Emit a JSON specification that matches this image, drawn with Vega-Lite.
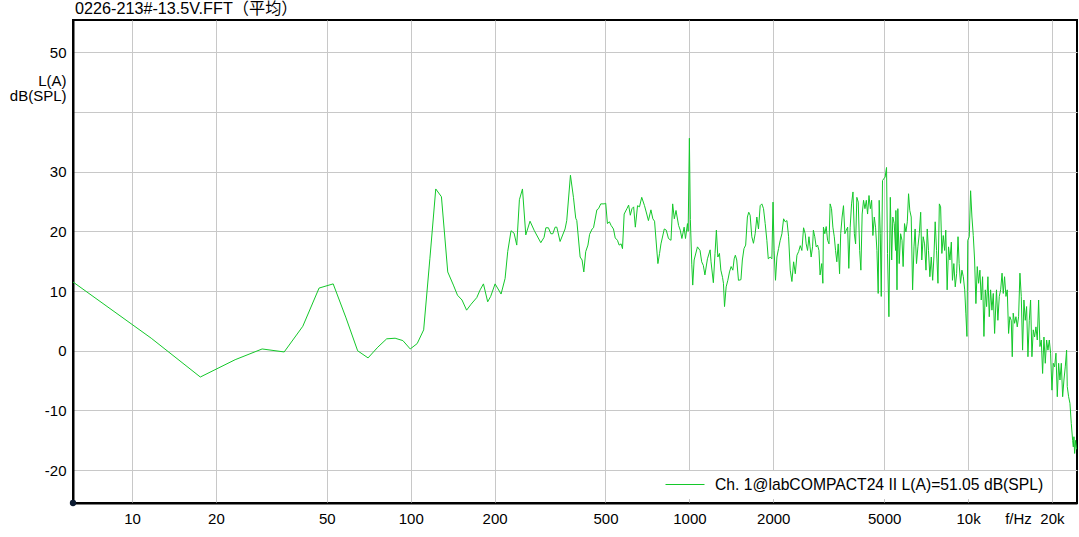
{
"$schema": "https://vega.github.io/schema/vega-lite/v6.json",
"width": 1004,
"height": 483,
"autosize": {"type": "none"},
"padding": {"left": 73, "top": 20, "right": 2, "bottom": 34},
"background": "white",
"title": {"text": "0226-213#-13.5V.FFT（平均）", "anchor": "start", "frame": "group", "dx": 2, "dy": 16, "offset": 6, "baseline": "alphabetic", "font": "Liberation Sans, Noto Sans CJK SC", "fontSize": 16.2, "fontWeight": "normal", "color": "black"},
"config": {
 "view": {"stroke": "black", "strokeWidth": 2},
 "axis": {"gridColor": "#c8c8c8", "gridWidth": 1, "domainColor": "black", "domainWidth": 2, "ticks": false, "labelFont": "Liberation Sans", "labelFontSize": 15, "labelColor": "black", "titleFont": "Liberation Sans", "titleFontSize": 15, "titleFontWeight": "normal", "titleColor": "black"}
},
"datasets": {
 "spectrum": [
{"f":5.86,"db":12.2},{"f":11.72,"db":2.1},{"f":17.58,"db":-4.4},{"f":23.44,"db":-1.5},{"f":29.3,"db":0.3},{"f":35.16,"db":-0.2},{"f":41.0,"db":4.1},{"f":46.9,"db":10.5},{"f":52.7,"db":11.2},{"f":58.6,"db":5.5},{"f":64.5,"db":0.0},{"f":70.3,"db":-1.2},{"f":76.2,"db":0.6},{"f":82.0,"db":2.0},{"f":87.9,"db":2.1},{"f":93.75,"db":1.7},{"f":99.6,"db":0.3},{"f":105.5,"db":1.2},{"f":111.3,"db":3.5},{"f":117.2,"db":15.5},{"f":123.0,"db":27.1},{"f":128.9,"db":25.8},{"f":135.8,"db":13.2},{"f":142.3,"db":11.0},{"f":147.2,"db":9.3},{"f":152.8,"db":8.5},{"f":158.7,"db":6.8},{"f":164.7,"db":7.8},{"f":172.6,"db":8.9},{"f":177.5,"db":10.2},{"f":182.4,"db":11.2},{"f":188.9,"db":8.2},{"f":193.6,"db":9.1},{"f":200.8,"db":11.2},{"f":211,"db":9.5},{"f":218.1,"db":12.1},{"f":222.9,"db":16.6},{"f":229.1,"db":20.1},{"f":234.9,"db":19.7},{"f":240.2,"db":17.7},{"f":245.5,"db":25.3},{"f":251.8,"db":27.1},{"f":258.8,"db":19.4},{"f":268,"db":21.7},{"f":277.8,"db":20.1},{"f":293,"db":18.1},{"f":301,"db":19.0},{"f":305.5,"db":20.6},{"f":312,"db":20.6},{"f":318.4,"db":19.6},{"f":323.6,"db":19.6},{"f":329.8,"db":20.7},{"f":334.4,"db":20.7},{"f":343.6,"db":18.3},{"f":358,"db":20.4},{"f":363,"db":21.8},{"f":374.3,"db":29.4},{"f":383.7,"db":25.7},{"f":391,"db":22.2},{"f":394.5,"db":21.8},{"f":405.5,"db":15.7},{"f":412,"db":15.2},{"f":418,"db":13.2},{"f":424.6,"db":16.6},{"f":432.5,"db":17.7},{"f":438.5,"db":19.5},{"f":447.7,"db":20.4},{"f":452.9,"db":20.6},{"f":465.6,"db":23.6},{"f":472,"db":23.8},{"f":480.8,"db":24.6},{"f":494.3,"db":24.6},{"f":501,"db":24.7},{"f":508,"db":21.3},{"f":516.4,"db":21.6},{"f":523.6,"db":21.0},{"f":534,"db":20.4},{"f":541.9,"db":18.9},{"f":552,"db":18.5},{"f":559.8,"db":17.7},{"f":568.9,"db":17.9},{"f":575.4,"db":17.1},{"f":583.4,"db":22.9},{"f":596.8,"db":23.8},{"f":605.3,"db":24.4},{"f":613.8,"db":22.7},{"f":622.3,"db":23.8},{"f":631,"db":24.1},{"f":639.8,"db":20.7},{"f":651.6,"db":24.3},{"f":662.2,"db":24.1},{"f":674.5,"db":25.7},{"f":690.2,"db":24.3},{"f":703.1,"db":22.9},{"f":712.9,"db":21.8},{"f":727.8,"db":23.6},{"f":739.6,"db":22.1},{"f":749.9,"db":21.7},{"f":770.9,"db":14.6},{"f":781.6,"db":16.3},{"f":790.7,"db":17.9},{"f":812.8,"db":20.4},{"f":826,"db":20.2},{"f":841.4,"db":18.8},{"f":859,"db":18.5},{"f":871,"db":24.6},{"f":883,"db":22.1},{"f":895.4,"db":23.5},{"f":914.6,"db":21.0},{"f":927.3,"db":20.2},{"f":940,"db":18.8},{"f":957.6,"db":20.7},{"f":968.4,"db":18.8},{"f":984.3,"db":21.3},{"f":990,"db":20.0},{"f":1000,"db":35.6},{"f":1008,"db":22.0},{"f":1020,"db":14.5},{"f":1028,"db":11.0},{"f":1040,"db":15.2},{"f":1069,"db":17.4},{"f":1092,"db":16.8},{"f":1107,"db":14.9},{"f":1122,"db":14.3},{"f":1137,"db":12.7},{"f":1161,"db":15.4},{"f":1187,"db":16.9},{"f":1196,"db":14.9},{"f":1219,"db":11.4},{"f":1236,"db":16.3},{"f":1250,"db":20.2},{"f":1265,"db":15.7},{"f":1282,"db":16.3},{"f":1297,"db":13.5},{"f":1315,"db":12.3},{"f":1325,"db":11.3},{"f":1337,"db":7.4},{"f":1355,"db":10.7},{"f":1374,"db":11.8},{"f":1393,"db":13.2},{"f":1412,"db":14.1},{"f":1432,"db":13.5},{"f":1448,"db":15.4},{"f":1462,"db":16.0},{"f":1479,"db":15.2},{"f":1500,"db":11.8},{"f":1531,"db":11.9},{"f":1549,"db":15.2},{"f":1570,"db":17.1},{"f":1592,"db":17.7},{"f":1615,"db":22.4},{"f":1633,"db":23.2},{"f":1652,"db":22.7},{"f":1675,"db":19.1},{"f":1698,"db":18.0},{"f":1722,"db":19.6},{"f":1746,"db":22.4},{"f":1770,"db":20.4},{"f":1795,"db":24.3},{"f":1820,"db":24.6},{"f":1845,"db":23.8},{"f":1871,"db":21.3},{"f":1897,"db":18.5},{"f":1919,"db":15.4},{"f":1950,"db":15.7},{"f":1977,"db":15.4},{"f":1996,"db":24.9},{"f":2014,"db":16.8},{"f":2037,"db":11.8},{"f":2061,"db":15.7},{"f":2089,"db":17.1},{"f":2118,"db":18.5},{"f":2148,"db":19.6},{"f":2178,"db":22.1},{"f":2208,"db":21.6},{"f":2239,"db":21.8},{"f":2270,"db":19.1},{"f":2301,"db":13.5},{"f":2333,"db":11.6},{"f":2366,"db":14.9},{"f":2399,"db":12.9},{"f":2432,"db":16.0},{"f":2466,"db":16.6},{"f":2500,"db":17.6},{"f":2533,"db":16.8},{"f":2569,"db":20.6},{"f":2604,"db":19.6},{"f":2625,"db":17.9},{"f":2655,"db":16.8},{"f":2686,"db":19.1},{"f":2710,"db":17.4},{"f":2735,"db":15.7},{"f":2767,"db":17.4},{"f":2786,"db":20.2},{"f":2818,"db":19.1},{"f":2851,"db":17.4},{"f":2884,"db":17.7},{"f":2917,"db":16.8},{"f":2944,"db":12.7},{"f":2985,"db":14.6},{"f":3013,"db":11.3},{"f":3027,"db":20.7},{"f":3062,"db":19.6},{"f":3097,"db":20.8},{"f":3133,"db":18.5},{"f":3170,"db":17.9},{"f":3199,"db":24.6},{"f":3236,"db":23.8},{"f":3273,"db":20.7},{"f":3311,"db":19.1},{"f":3346,"db":16.8},{"f":3381,"db":14.9},{"f":3420,"db":17.9},{"f":3459,"db":12.9},{"f":3491,"db":19.6},{"f":3532,"db":22.4},{"f":3573,"db":24.3},{"f":3614,"db":19.6},{"f":3656,"db":20.2},{"f":3698,"db":20.7},{"f":3733,"db":13.8},{"f":3776,"db":20.7},{"f":3819,"db":24.6},{"f":3864,"db":26.6},{"f":3908,"db":19.6},{"f":3949,"db":17.9},{"f":3990,"db":25.7},{"f":4036,"db":24.9},{"f":4083,"db":16.8},{"f":4125,"db":13.5},{"f":4169,"db":22.9},{"f":4217,"db":25.2},{"f":4266,"db":23.8},{"f":4315,"db":25.2},{"f":4360,"db":22.9},{"f":4411,"db":26.0},{"f":4461,"db":23.8},{"f":4508,"db":25.2},{"f":4555,"db":19.3},{"f":4608,"db":22.4},{"f":4656,"db":20.7},{"f":4710,"db":16.8},{"f":4759,"db":9.6},{"f":4798,"db":25.2},{"f":4842,"db":19.6},{"f":4881,"db":9.1},{"f":4932,"db":28.5},{"f":4983,"db":28.8},{"f":5041,"db":29.1},{"f":5099,"db":30.7},{"f":5140,"db":16.3},{"f":5200,"db":5.7},{"f":5260,"db":25.7},{"f":5321,"db":15.2},{"f":5370,"db":22.4},{"f":5433,"db":21.3},{"f":5495,"db":16.8},{"f":5508,"db":23.5},{"f":5559,"db":10.2},{"f":5598,"db":23.8},{"f":5662,"db":14.6},{"f":5728,"db":19.6},{"f":5794,"db":18.5},{"f":5848,"db":14.1},{"f":5916,"db":21.3},{"f":5984,"db":19.9},{"f":6053,"db":21.6},{"f":6116,"db":26.3},{"f":6180,"db":23.5},{"f":6252,"db":22.4},{"f":6324,"db":10.2},{"f":6397,"db":17.4},{"f":6457,"db":20.4},{"f":6531,"db":14.6},{"f":6607,"db":17.4},{"f":6683,"db":19.6},{"f":6761,"db":23.2},{"f":6823,"db":15.2},{"f":6902,"db":19.1},{"f":6982,"db":17.9},{"f":7063,"db":13.5},{"f":7137,"db":20.4},{"f":7211,"db":16.8},{"f":7295,"db":12.4},{"f":7379,"db":15.7},{"f":7464,"db":11.8},{"f":7542,"db":15.7},{"f":7621,"db":21.6},{"f":7709,"db":16.8},{"f":7798,"db":11.3},{"f":7889,"db":24.6},{"f":7971,"db":24.1},{"f":8054,"db":16.3},{"f":8147,"db":19.3},{"f":8241,"db":16.8},{"f":8318,"db":20.2},{"f":8414,"db":10.2},{"f":8511,"db":17.4},{"f":8610,"db":15.2},{"f":8710,"db":18.2},{"f":8790,"db":11.8},{"f":8892,"db":14.6},{"f":8995,"db":10.7},{"f":9099,"db":12.9},{"f":9204,"db":19.1},{"f":9290,"db":14.6},{"f":9397,"db":11.3},{"f":9506,"db":13.5},{"f":9616,"db":12.4},{"f":9727,"db":10.2},{"f":9817,"db":6.3},{"f":9908,"db":2.4},{"f":9977,"db":18.5},{"f":10100,"db":19.1},{"f":10212,"db":26.8},{"f":10325,"db":22.4},{"f":10440,"db":19.3},{"f":10556,"db":15.2},{"f":10671,"db":7.9},{"f":10790,"db":14.1},{"f":10909,"db":11.3},{"f":11030,"db":13.5},{"f":11153,"db":8.5},{"f":11276,"db":12.4},{"f":11402,"db":2.4},{"f":11528,"db":10.2},{"f":11656,"db":7.4},{"f":11783,"db":12.4},{"f":11914,"db":5.7},{"f":12047,"db":10.2},{"f":12180,"db":6.8},{"f":12316,"db":9.6},{"f":12453,"db":2.9},{"f":12647,"db":10.2},{"f":12794,"db":5.1},{"f":12942,"db":9.1},{"f":13092,"db":10.2},{"f":13243,"db":13.0},{"f":13375,"db":9.6},{"f":13521,"db":12.4},{"f":13677,"db":9.1},{"f":13824,"db":10.2},{"f":13978,"db":2.9},{"f":14125,"db":5.7},{"f":14289,"db":5.1},{"f":14408,"db":-1.0},{"f":14520,"db":6.3},{"f":14690,"db":4.6},{"f":14852,"db":5.7},{"f":15016,"db":4.0},{"f":15183,"db":5.7},{"f":15352,"db":13.0},{"f":15523,"db":9.1},{"f":15692,"db":0.1},{"f":15867,"db":8.5},{"f":16043,"db":5.1},{"f":16222,"db":7.4},{"f":16402,"db":-1.0},{"f":16585,"db":5.1},{"f":16764,"db":8.5},{"f":16951,"db":-1.0},{"f":17140,"db":3.5},{"f":17330,"db":2.3},{"f":17523,"db":4.0},{"f":17718,"db":1.8},{"f":17915,"db":8.5},{"f":18113,"db":0.7},{"f":18315,"db":1.8},{"f":18514,"db":-3.8},{"f":18720,"db":2.3},{"f":18927,"db":-2.1},{"f":19138,"db":1.8},{"f":19350,"db":0.1},{"f":19565,"db":1.8},{"f":19778,"db":-0.4},{"f":20000,"db":-6.6},{"f":20222,"db":-2.1},{"f":20447,"db":-2.7},{"f":20674,"db":-0.4},{"f":20904,"db":-7.7},{"f":21135,"db":-2.1},{"f":21370,"db":-4.9},{"f":21608,"db":-2.1},{"f":21848,"db":-7.7},{"f":22083,"db":-4.9},{"f":22328,"db":-2.7},{"f":22576,"db":0.1},{"f":22696,"db":-6.0},{"f":22953,"db":-7.7},{"f":23208,"db":-8.8},{"f":23466,"db":-12.2},{"f":23727,"db":-15.0},{"f":23859,"db":-16.1},{"f":23988,"db":-14.4},{"f":24120,"db":-17.2},{"f":24322,"db":-15.0},{"f":24500,"db":-16.5}
 ],
 "origin": [{"f": 6.14, "db": -25.5}]
},
"encoding": {
 "x": {"field": "f", "type": "quantitative", "scale": {"type": "log", "domain": [6.14, 24600], "nice": false},
  "axis": {"values": [10,20,50,100,200,500,1000,2000,5000,10000,20000], "labelExpr": "datum.value >= 10000 ? (datum.value/1000) + 'k' : '' + datum.value", "labelPadding": 8, "labelFlush": false, "labelOverlap": false, "title": "f/Hz", "titleX": 945, "titleY": 8, "titleBaseline": "top", "titleAlign": "center"}},
 "y": {"field": "db", "type": "quantitative", "scale": {"domain": [-25.5, 55.4], "nice": false, "zero": false},
  "axis": {"values": [-20,-10,0,10,20,30,40,50], "labelExpr": "datum.value == 40 ? '' : '' + datum.value", "labelPadding": 7, "title": ["L(A)", "dB(SPL)"], "titleAngle": 0, "titleAlign": "right", "titleBaseline": "alphabetic", "titleX": -7, "titleY": 65, "titleLineHeight": 15}}
},
"layer": [
 {"data": {"name": "spectrum"},
  "mark": {"type": "line", "strokeWidth": 1, "clip": true, "interpolate": "linear"},
  "encoding": {"color": {"datum": "Ch. 1@labCOMPACT24 II L(A)=51.05 dB(SPL)", "type": "nominal", "scale": {"range": ["#14c82a"]},
   "legend": {"title": null, "orient": "none", "legendX": 580, "legendY": 451, "fillColor": "white", "padding": 6, "symbolType": "stroke", "symbolSize": 1521, "symbolStrokeWidth": 1, "clipHeight": 15, "symbolOffset": 6, "labelOffset": 10, "labelFont": "Liberation Sans", "labelFontSize": 15.7, "labelColor": "black", "labelLimit": 600}}}},
 {"data": {"name": "origin"},
  "mark": {"type": "point", "filled": true, "size": 40, "color": "#0b1a30", "opacity": 1, "clip": false}}
]
}
